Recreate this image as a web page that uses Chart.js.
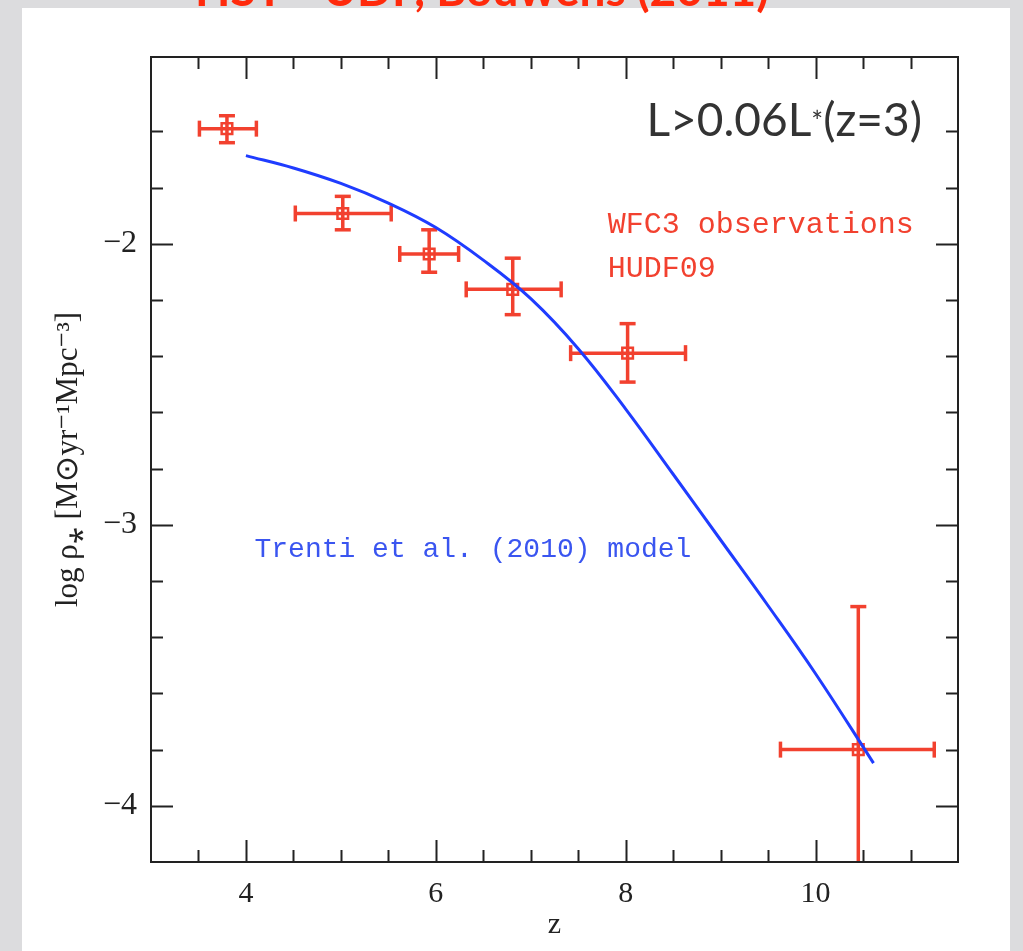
<!DOCTYPE html>
<html>
<head>
<meta charset="utf-8">
<script src="https://cdn.jsdelivr.net/npm/chart.js@4.4.1/dist/chart.umd.min.js"></script>
<style>
  html, body { margin: 0; padding: 0; background: #dcdcde; }
  canvas { display: block; }
</style>
</head>
<body>
<canvas id="chart" width="1023" height="951"></canvas>
<script>
// SFR density vs redshift, HUDF09 points + Trenti model

const obsZ      = [3.80, 5.02, 5.93, 6.81, 8.02, 10.45];
const obsLogRho = [-1.59, -1.892, -2.036, -2.162, -2.389, -3.80];
const obsZLo    = [3.51, 4.52, 5.62, 6.32, 7.42, 9.63];
const obsZHi    = [4.11, 5.53, 6.24, 7.32, 8.63, 11.25];
const obsRhoLo  = [-1.640, -1.950, -2.101, -2.252, -2.492, -4.31];
const obsRhoHi  = [-1.544, -1.831, -1.950, -2.051, -2.284, -3.291];

const modelZ      = [4.0, 4.5, 5.0, 5.5, 6.0, 6.5, 7.0, 7.5, 8.0, 8.5, 9.0, 9.5, 10.0, 10.61];
const modelLogRho = [-1.686, -1.730, -1.785, -1.855, -1.942, -2.058, -2.195, -2.373, -2.588, -2.82, -3.054, -3.288, -3.53, -3.848];

const xMajor = [4, 6, 8, 10];
const yMajor = [-2, -3, -4];

const slideTitle = 'HST - UDF, Bouwens (2011)';
const obsLabel = ['WFC3 observations', 'HUDF09'];
const modelLabel = 'Trenti et al. (2010) model';

const RED = '#f2412f';
const BLUE = '#1f3cff';
const INK = '#222';

// error bars as gapped line segments, caps come from the point style
const hBars = [], vBars = [];
obsZ.forEach((z, i) => {
  hBars.push({ x: obsZLo[i], y: obsLogRho[i] }, { x: obsZHi[i], y: obsLogRho[i] }, { x: z, y: null });
  vBars.push({ x: z, y: obsRhoLo[i] }, { x: z, y: obsRhoHi[i] }, { x: z, y: null });
});

const isMajor = (v, list) => list.some(m => Math.abs(m - v) < 1e-6);
const onGrid = (v, step) => Math.abs(v / step - Math.round(v / step)) < 1e-6;

const framePlugin = {
  id: 'frame',
  beforeDraw(chart) {
    const { ctx, width, height } = chart;
    ctx.save();
    ctx.fillStyle = '#dcdcde';
    ctx.fillRect(0, 0, width, height);
    ctx.fillStyle = '#ffffff';
    ctx.fillRect(22, 8, 988, height - 8);
    ctx.fillStyle = '#ff2a0c';
    ctx.font = 'bold 46px Lato';
    ctx.textAlign = 'center';
    ctx.fillText(slideTitle, 482, 6);
    ctx.restore();
  },
  afterDraw(chart) {
    const { ctx, chartArea: a, scales: { x, y } } = chart;
    ctx.save();
    ctx.strokeStyle = INK;
    ctx.lineWidth = 2;
    ctx.strokeRect(a.left, a.top, a.right - a.left, a.bottom - a.top);

    // inward ticks on all four sides
    ctx.beginPath();
    x.ticks.forEach(t => {
      if (t.value <= x.min + 1e-6 || t.value >= x.max - 1e-6 || !onGrid(t.value, 0.5)) return;
      const px = Math.round(x.getPixelForValue(t.value)) + 0.5;
      const len = isMajor(t.value, xMajor) ? 22 : 12;
      ctx.moveTo(px, a.bottom); ctx.lineTo(px, a.bottom - len);
      ctx.moveTo(px, a.top); ctx.lineTo(px, a.top + len);
    });
    y.ticks.forEach(t => {
      if (t.value <= y.min + 1e-6 || t.value >= y.max - 1e-6 || !onGrid(t.value, 0.2)) return;
      const py = Math.round(y.getPixelForValue(t.value)) + 0.5;
      const len = isMajor(t.value, yMajor) ? 22 : 12;
      ctx.moveTo(a.left, py); ctx.lineTo(a.left + len, py);
      ctx.moveTo(a.right, py); ctx.lineTo(a.right - len, py);
    });
    ctx.stroke();

    // annotations
    ctx.textBaseline = 'alphabetic';
    ctx.textAlign = 'left';
    ctx.fillStyle = RED;
    ctx.font = '30px "Liberation Mono"';
    ctx.fillText(obsLabel[0], x.getPixelForValue(7.81), y.getPixelForValue(-1.963));
    ctx.fillText(obsLabel[1], x.getPixelForValue(7.81), y.getPixelForValue(-2.119));
    ctx.fillStyle = '#3a55f0';
    ctx.font = '28px "Liberation Mono"';
    ctx.fillText(modelLabel, x.getPixelForValue(4.09), y.getPixelForValue(-3.115));

    // L>0.06L*(z=3), right aligned
    const big = '46px Lato', small = '28px Lato';
    const parts = [['L>0.06L', big, 0], ['*', small, -4], ['(z=3)', big, 0]];
    let total = 0;
    parts.forEach(p => { ctx.font = p[1]; total += ctx.measureText(p[0]).width; });
    let cx = x.getPixelForValue(11.12) - total;
    const by = y.getPixelForValue(-1.615);
    ctx.fillStyle = '#333';
    parts.forEach(p => {
      ctx.font = p[1];
      ctx.fillText(p[0], cx, by + p[2]);
      cx += ctx.measureText(p[0]).width;
    });
    ctx.restore();
  }
};

new Chart(document.getElementById('chart'), {
  type: 'scatter',
  data: {
    datasets: [
      {
        label: modelLabel,
        data: modelZ.map((z, i) => ({ x: z, y: modelLogRho[i] })),
        showLine: true, borderColor: BLUE, borderWidth: 3,
        pointRadius: 0, tension: 0.4
      },
      {
        label: 'z error',
        data: hBars,
        showLine: true, spanGaps: false, borderColor: RED, borderWidth: 3.5,
        pointStyle: 'line', rotation: 90, pointRadius: 8,
        pointBorderColor: RED, pointBorderWidth: 3.5
      },
      {
        label: 'rho error',
        data: vBars,
        showLine: true, spanGaps: false, borderColor: RED, borderWidth: 3.5,
        pointStyle: 'line', rotation: 0, pointRadius: 8,
        pointBorderColor: RED, pointBorderWidth: 3.5
      },
      {
        label: obsLabel.join(' '),
        data: obsZ.map((z, i) => ({ x: z, y: obsLogRho[i] })),
        pointStyle: 'rect', pointRadius: 7.5,
        pointBackgroundColor: 'rgba(0,0,0,0)', pointBorderColor: RED, pointBorderWidth: 2.5
      }
    ]
  },
  options: {
    responsive: false,
    animation: false,
    events: [],
    layout: { padding: { left: 0, top: 57, right: 65, bottom: 0 } },
    plugins: { legend: { display: false }, tooltip: { enabled: false } },
    scales: {
      x: {
        type: 'linear', min: 3, max: 11.5,
        afterFit: s => { s.height = 89; },
        grid: { display: false, drawTicks: false },
        border: { display: false },
        ticks: {
          stepSize: 0.5, autoSkip: false, maxRotation: 0, padding: 14,
          color: INK, font: { family: 'Liberation Serif', size: 30 },
          callback: v => isMajor(v, xMajor) ? String(Math.round(v)) : ''
        },
        title: {
          display: true, text: 'z', color: INK,
          font: { family: 'Liberation Serif', size: 30 }, padding: { top: 0, bottom: 8 }
        }
      },
      y: {
        type: 'linear', min: -4.2, max: -1.335,
        afterFit: s => { s.width = 151; },
        grid: { display: false, drawTicks: false },
        border: { display: false },
        ticks: {
          stepSize: 0.2, autoSkip: false, padding: 14,
          color: INK, font: { family: 'Liberation Serif', size: 32 },
          callback: v => isMajor(v, yMajor) ? '\u2212' + Math.abs(Math.round(v)) : ''
        },
        title: {
          display: true, text: 'log \u03c1\u204e [M\u2299yr\u207b\u00b9Mpc\u207b\u00b3]', color: INK,
          font: { family: 'Liberation Serif', size: 31 }, padding: { top: 50, bottom: 0 }
        }
      }
    }
  },
  plugins: [framePlugin]
});
</script>
</body>
</html>
